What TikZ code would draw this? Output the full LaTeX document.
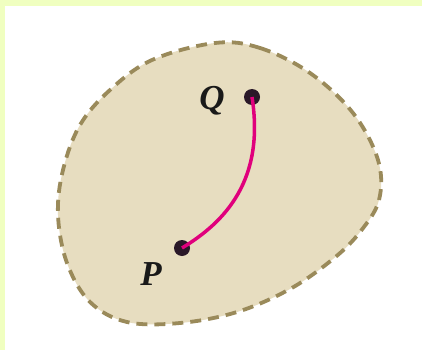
\documentclass[tikz,border=0pt]{standalone}
\usepackage{fontspec}
\setmainfont{Liberation Serif}
\definecolor{frameyellow}{HTML}{F0FFC0}
\definecolor{blobfill}{HTML}{E7DDC0}
\definecolor{blobline}{HTML}{9A8A5A}
\definecolor{pathmag}{HTML}{E0007C}
\definecolor{dotdark}{HTML}{2A1828}
\tikzset{
  pt/.style={circle, fill=dotdark, inner sep=0pt, minimum size=16pt},
  lbl/.style={font=\fontsize{35}{35}\selectfont\itshape\bfseries, text=black!90, inner sep=0pt, anchor=base},
  region/.style={fill=blobfill, draw=blobline, line width=3.8pt, dash pattern=on 11pt off 7pt},
  curve/.style={draw=pathmag, line width=3.5pt}
}
\begin{document}
\begin{tikzpicture}[x=1pt,y=-1pt]
\fill[frameyellow] (0,0) rectangle (422,350);
\fill[white] (5,6) rectangle (422,350);
\useasboundingbox (0,0) rectangle (422,350);
\draw[region] plot[smooth cycle, tension=0.6] coordinates {
  (215,43) (260,48) (310,73) (353,113) (378,160) (379,200) (360,232)
  (333,259) (290,289) (237,312) (180,323) (127,322) (90,302)
  (67,263) (58,215) (63,170) (80,125) (110,90) (152,60)};
\node[pt] (Q) at (252,97) {};
\node[pt] (P) at (182,248) {};
\draw[curve] (P.center) .. controls (225,222) and (265,180) .. (Q.center);
\node[lbl] (Ql) at (212,110) {Q};
\node[lbl] (Pl) at (151,285) {P};
\end{tikzpicture}
\end{document}
